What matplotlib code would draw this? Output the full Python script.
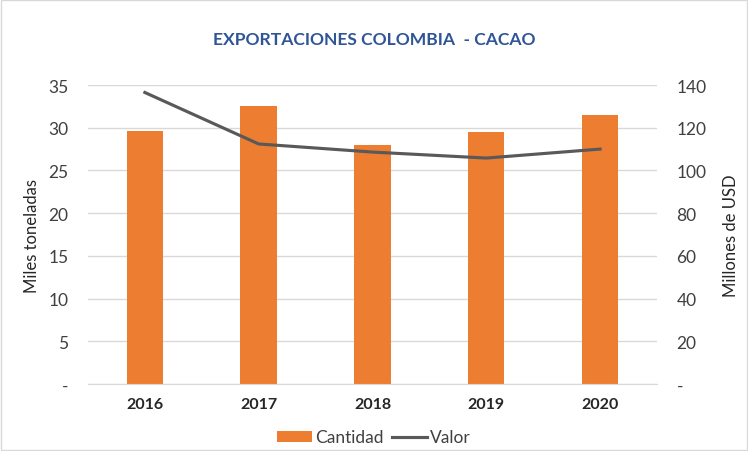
import matplotlib
matplotlib.use('Agg')
import matplotlib.pyplot as plt
from matplotlib.patches import Rectangle
from matplotlib.ticker import FuncFormatter

# Datos
years = ['2016', '2017', '2018', '2019', '2020']
cantidad = [29.6, 32.5, 28.0, 29.5, 31.5]   # miles de toneladas
valor = [136.5, 112.4, 108.6, 105.8, 110.0]  # millones de USD

plt.rcParams['font.family'] = ['Lato', 'DejaVu Sans']

color_bar = '#ED7D31'
color_line = '#595959'
color_grid = '#D9D9D9'
color_text = '#404040'

fig = plt.figure(figsize=(7.48, 4.52), dpi=100)
fig.patch.set_facecolor('white')
fig.patches.append(Rectangle((0.002, 0.003), 0.996, 0.994, transform=fig.transFigure,
                             fill=False, edgecolor='#D9D9D9', linewidth=1))

ax1 = fig.add_axes([0.1176, 0.1482, 0.7607, 0.6615])
x = list(range(len(years)))
ax1.bar(x, cantidad, width=0.32, color=color_bar, label='Cantidad', zorder=2)
ax1.set_xlim(-0.5, 4.5)
ax1.set_ylim(0, 35)
ax1.set_yticks(range(0, 36, 5))
fmt = FuncFormatter(lambda v, p: '-' if v == 0 else f'{v:.0f}')
ax1.yaxis.set_major_formatter(fmt)
ax1.grid(axis='y', color=color_grid, linewidth=1, zorder=0)
ax1.set_axisbelow(True)
ax1.set_xticks(x)
ax1.set_xticklabels(years, fontweight='bold', fontsize=11.5, color='#262626')
ax1.set_ylabel('Miles toneladas', fontsize=12, color='#262626', labelpad=6)
ax1.tick_params(axis='y', length=0, labelsize=12.5, labelcolor=color_text, pad=14)
ax1.tick_params(axis='x', length=0, pad=9)
for s in ['top', 'right', 'left']:
    ax1.spines[s].set_visible(False)
ax1.spines['bottom'].set_color(color_grid)

ax2 = ax1.twinx()
ax2.plot(x, valor, color=color_line, linewidth=2.25, label='Valor', zorder=3)
ax2.set_ylim(0, 140)
ax2.set_yticks(range(0, 141, 20))
ax2.yaxis.set_major_formatter(fmt)
ax2.set_ylabel('Millones de USD', fontsize=12, color='#262626', labelpad=12)
ax2.tick_params(axis='y', length=0, labelsize=12.5, labelcolor=color_text, pad=14)
for s in ax2.spines.values():
    s.set_visible(False)

fig.text(0.5, 0.912, 'EXPORTACIONES COLOMBIA  - CACAO', ha='center', va='center',
         fontsize=12.6, fontweight='bold', color='#2F5597')

h1, l1 = ax1.get_legend_handles_labels()
h2, l2 = ax2.get_legend_handles_labels()
fig.legend(h1 + h2, l1 + l2, loc='center', bbox_to_anchor=(0.5, 0.03), ncol=2,
           frameon=False, fontsize=12.5, handlelength=2.0, handleheight=0.55,
           columnspacing=0.5, handletextpad=0.2, labelcolor='#404040')

fig.savefig('out.png', dpi=100)
